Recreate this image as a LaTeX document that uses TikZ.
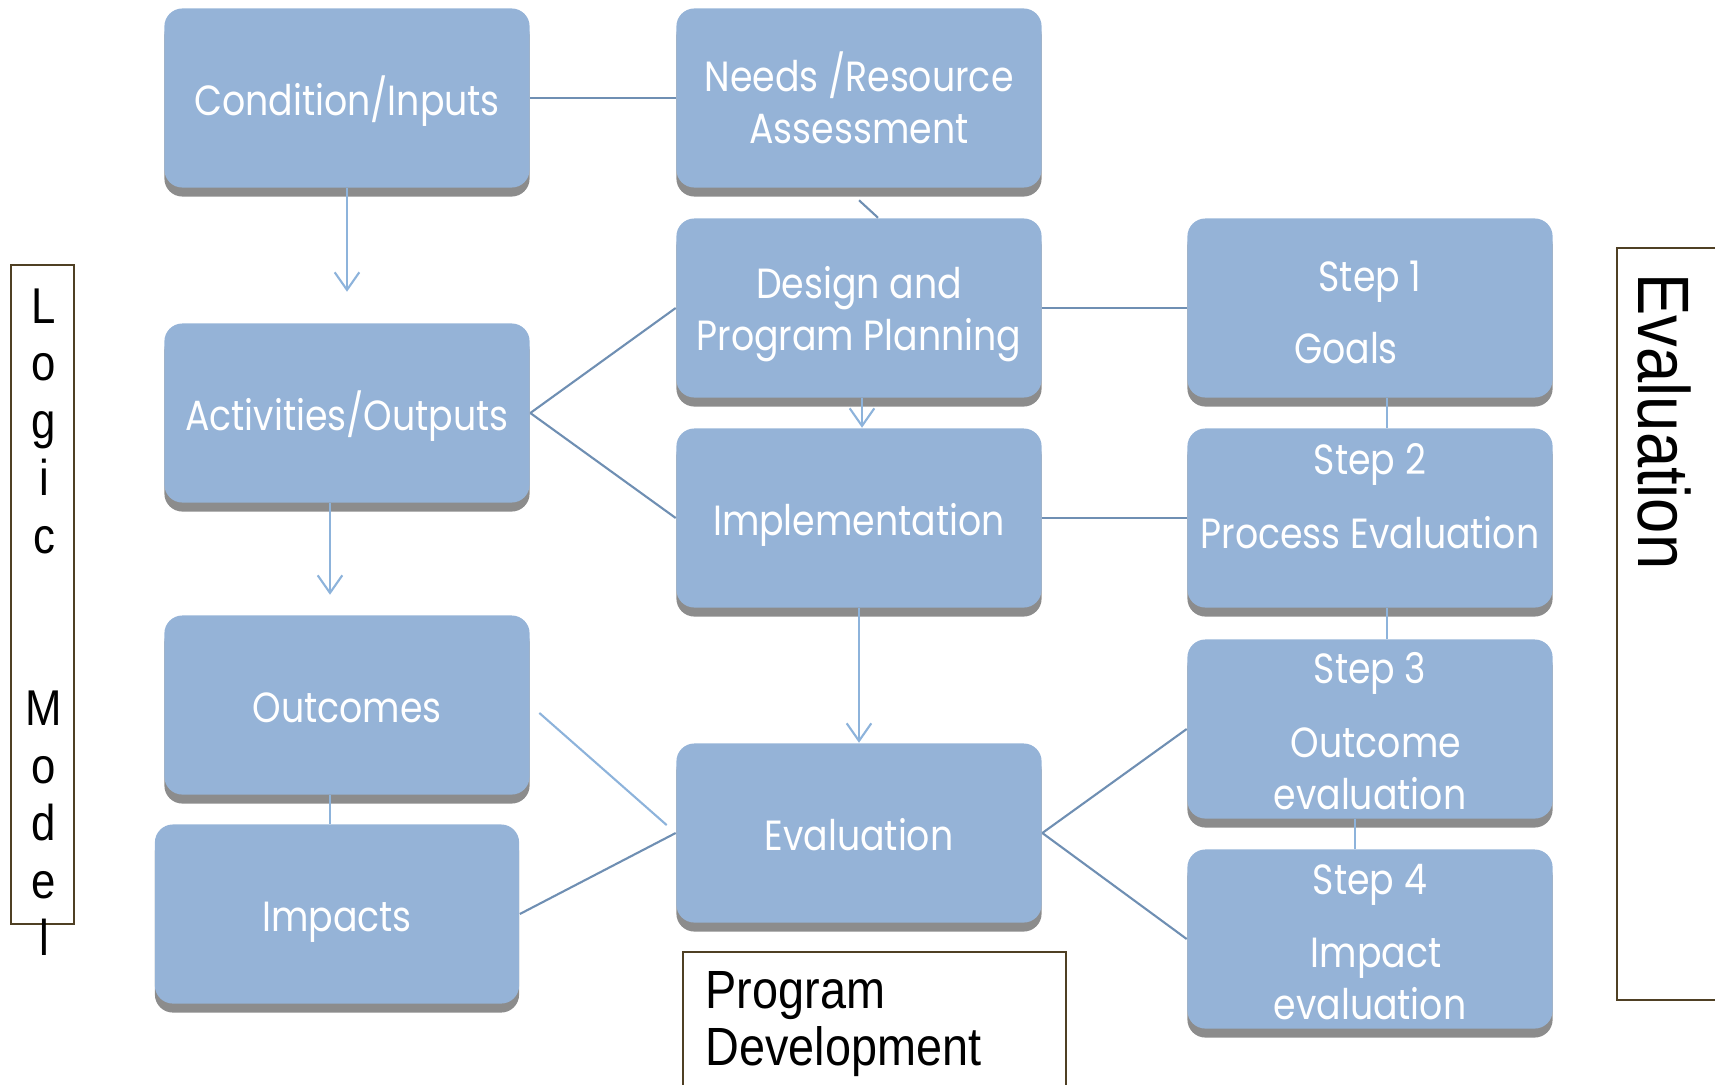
\documentclass[tikz,border=0pt]{standalone}
\usepackage{fontspec}
\setmainfont{Liberation Sans}
\newfontfamily\boxfont[FakeStretch=0.86]{Poppins}
\newfontfamily\sidefont[FakeStretch=0.87]{Liberation Sans}
\usetikzlibrary{shadows,arrows.meta}
\definecolor{stageblue}{HTML}{95B3D7}
\definecolor{stageshadow}{HTML}{8C8C8C}
\definecolor{linkdark}{HTML}{6F8FB3}
\definecolor{linklight}{HTML}{8DB3DB}
\definecolor{framebrown}{HTML}{4F4024}
\tikzstyle{stage} = [rectangle, rounded corners=0.18cm, minimum width=3.65cm, minimum height=1.79cm,
inner sep=0pt, fill=stageblue, drop shadow={shadow xshift=0cm, shadow yshift=-0.09cm, fill=stageshadow, opacity=1},
text=white, align=center, text height=10.2pt, text depth=0pt, font=\boxfont\fontsize{12}{14.8}\selectfont]
\tikzstyle{stagetext} = [inner sep=0pt, text=white, align=center, font=\boxfont\fontsize{12}{14.8}\selectfont]
\tikzstyle{link} = [draw=linkdark, line width=0.6pt]
\tikzstyle{softlink} = [draw=linklight, line width=0.6pt]
\tikzstyle{flow} = [draw=linklight, line width=0.6pt, -{Straight Barb[length=5pt,width=7pt]}]
\tikzstyle{frame} = [draw=framebrown, line width=0.7pt]

\begin{document}
\begin{tikzpicture}[x=0.01cm, y=-0.01cm]
        \useasboundingbox (0,0) rectangle (1715,1084);

        % Logic model column
        \node[stage] at (347,98) (cond) {Condition/Inputs};
        \node[stage] at (347,413) (act) {Activities/Outputs};
        \node[stage] at (347,705) (outc) {Outcomes};
        \node[stage, minimum width=3.64cm] at (337,914) (imp) {Impacts};

        % Program development column
        \node[stage, text height=] at (859,98) (needs) {Needs /Resource\\Assessment};
        \node[stage, text height=] at (859,308) (design) {Design and\\Program Planning};
        \node[stage] at (859,518) (impl) {Implementation};
        \node[stage] at (859,833) (eval) {Evaluation};

        % Evaluation steps
        \node[stage] at (1370,308) (step1) {};
        \node[stage] at (1370,518) (step2) {};
        \node[stage] at (1370,729) (step3) {};
        \node[stage] at (1370,939) (step4) {};

        \node[stagetext] at (1370,312) (step1text) {Step 1\\[0.2cm]Goals\hspace*{0.48cm}};
        \node[stagetext] at (1370,496) (step2text) {Step 2\\[0.22cm]Process Evaluation};
        \node[stagetext] at (1370,731) (step3text) {Step 3\\[0.22cm]\hspace*{0.12cm}Outcome\\evaluation};
        \node[stagetext] at (1370,942) (step4text) {Step 4\\[0.21cm]\hspace*{0.12cm}Impact\\evaluation};

        % Connectors
        \draw[link] (cond) -- (needs);
        \draw[flow, shorten >=0.31cm] (cond) -- (act);
        \draw[flow, shorten >=0.2cm] ([xshift=-0.17cm]act.south) -- ([xshift=-0.17cm]act.south |- outc.north);
        \draw[softlink] ([xshift=-0.17cm]outc.south) -- ([xshift=-0.17cm]outc.south |- imp.north);

        \draw[link] ([yshift=-0.12cm]needs.south) -- ([xshift=0.19cm]design.north);
        \draw[flow] ([xshift=0.03cm]design.south) -- ([xshift=0.03cm]impl.north);
        \draw[flow] (impl) -- (eval);

        \draw[link] (act.east) -- (design.west);
        \draw[link] (act.east) -- (impl.west);
        \draw[softlink, shorten <=0.12cm, shorten >=0.12cm] (outc.east) -- (eval.west);
        \draw[link] (imp.east) -- (eval.west);

        \draw[link] (design) -- (step1);
        \draw[link] (impl) -- (step2);
        \draw[link] (eval.east) -- (step3.west);
        \draw[link] (eval.east) -- (step4.west);

        \draw[softlink] ([xshift=0.17cm]step1.south) -- ([xshift=0.17cm]step2.north);
        \draw[softlink] ([xshift=0.17cm]step2.south) -- ([xshift=0.17cm]step3.north);
        \draw[softlink] ([xshift=-0.15cm]step3.south) -- ([xshift=-0.15cm]step4.north);

        % Side labels
        \draw[frame] (11,265) rectangle (74,924);
        \foreach \ch/\k in {L/0,o/1,g/2,i/3,c/4,M/7,o/8,d/9,e/10,l/11}
            \node[anchor=base, inner sep=0pt, font=\sidefont\fontsize{14.3}{17}\selectfont] at (44,323+57.5*\k) {\ch};

        \draw[frame] (1617,248) rectangle (1730,1000);
        \node[rotate=-90, anchor=west, inner sep=0pt, font=\sidefont\fontsize{20.7}{24}\selectfont] at (1664,273) (evallabel) {Evaluation};

        \draw[frame] (683,952) rectangle (1066,1110);
        \node[anchor=north west, inner sep=0pt, align=left, font=\sidefont\fontsize{15.3}{16.2}\selectfont] at (705,971) (devlabel) {Program\\Development};
\end{tikzpicture}
\end{document}
